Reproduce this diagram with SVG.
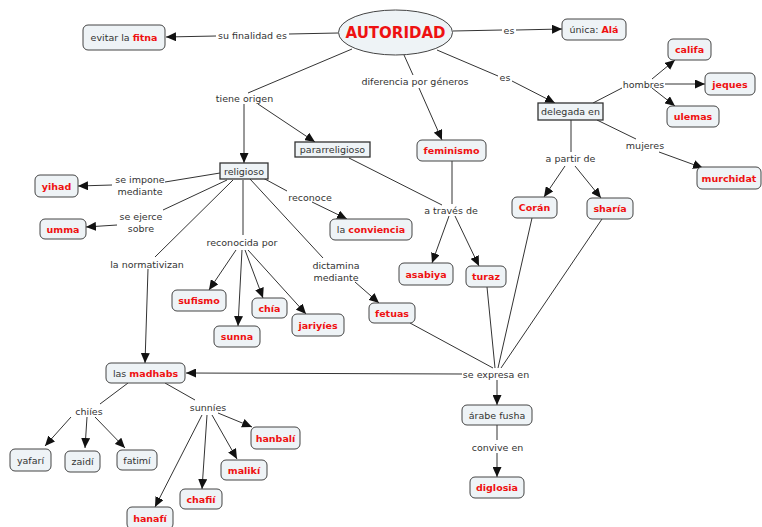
<svg xmlns="http://www.w3.org/2000/svg" width="762" height="527" viewBox="0 0 762 527">
<style>
text{font-family:"DejaVu Sans",Verdana,sans-serif;font-size:9.5px;fill:#333;text-anchor:middle}
.r{fill:#ee1111;font-weight:bold}
.n rect{fill:#eef3f6;stroke:#444;stroke-width:1}
.sq rect{fill:#eef3f6;stroke:#333;stroke-width:1.3}
#links line{stroke:#333;stroke-width:1}
#links line.a{marker-end:url(#ah)}
</style>
<defs>
<marker id="ah" markerUnits="userSpaceOnUse" markerWidth="11" markerHeight="9" refX="10" refY="4.5" orient="auto">
<path d="M0,0 L10,4.5 L0,9 z" fill="#111"/>
</marker>
</defs>
<rect width="762" height="527" fill="#fff"/>
<g id="links">
<line x1="338" y1="33" x2="289" y2="34"/>
<line class="a" x1="216" y1="36" x2="166" y2="37"/>
<line x1="453" y1="31" x2="502" y2="30"/>
<line class="a" x1="516" y1="30" x2="562" y2="29"/>
<line x1="404" y1="55" x2="413" y2="75"/>
<line class="a" x1="419" y1="88" x2="442" y2="140"/>
<line x1="437" y1="50" x2="498" y2="76"/>
<line class="a" x1="512" y1="81" x2="555" y2="103"/>
<line x1="593" y1="103" x2="622" y2="88"/>
<line class="a" x1="665" y1="84" x2="705" y2="84"/>
<line class="a" x1="652" y1="79" x2="675" y2="60"/>
<line class="a" x1="652" y1="88" x2="675" y2="106"/>
<line x1="597" y1="120" x2="636" y2="139"/>
<line class="a" x1="659" y1="152" x2="703" y2="168"/>
<line x1="571" y1="120" x2="571" y2="152"/>
<line class="a" x1="565" y1="166" x2="544" y2="197"/>
<line class="a" x1="575" y1="166" x2="601" y2="198"/>
<line x1="352" y1="49" x2="248" y2="93"/>
<line class="a" x1="244" y1="104" x2="244" y2="163"/>
<line class="a" x1="258" y1="104" x2="315" y2="142"/>
<line x1="349" y1="158" x2="442" y2="205"/>
<line x1="452" y1="161" x2="452" y2="204"/>
<line class="a" x1="449" y1="216" x2="432" y2="263"/>
<line class="a" x1="455" y1="216" x2="479" y2="266"/>
<line x1="220" y1="173" x2="165" y2="182"/>
<line class="a" x1="112" y1="185" x2="78" y2="186"/>
<line x1="227" y1="180" x2="163" y2="210"/>
<line class="a" x1="117" y1="225" x2="86" y2="227"/>
<line x1="233" y1="180" x2="155" y2="257"/>
<line class="a" x1="148" y1="269" x2="145" y2="363"/>
<line x1="243" y1="180" x2="243" y2="235"/>
<line class="a" x1="236" y1="250" x2="209" y2="290"/>
<line class="a" x1="242" y1="250" x2="238" y2="326"/>
<line class="a" x1="245" y1="250" x2="263" y2="298"/>
<line class="a" x1="248" y1="250" x2="306" y2="314"/>
<line x1="263" y1="178" x2="287" y2="191"/>
<line class="a" x1="312" y1="202" x2="347" y2="219"/>
<line x1="250" y1="179" x2="323" y2="258"/>
<line class="a" x1="355" y1="282" x2="379" y2="303"/>
<line x1="410" y1="323" x2="493" y2="368"/>
<line x1="487" y1="287" x2="495" y2="368"/>
<line x1="532" y1="218" x2="498" y2="368"/>
<line x1="602" y1="219" x2="501" y2="368"/>
<line class="a" x1="462" y1="374" x2="186" y2="373"/>
<line class="a" x1="497" y1="380" x2="497" y2="405"/>
<line x1="497" y1="425" x2="497" y2="440"/>
<line class="a" x1="497" y1="453" x2="497" y2="477"/>
<line x1="128" y1="383" x2="100" y2="404"/>
<line class="a" x1="71" y1="417" x2="45" y2="446"/>
<line class="a" x1="87" y1="417" x2="85" y2="448"/>
<line class="a" x1="95" y1="417" x2="125" y2="448"/>
<line x1="165" y1="383" x2="195" y2="400"/>
<line class="a" x1="218" y1="413" x2="252" y2="427"/>
<line class="a" x1="212" y1="415" x2="237" y2="459"/>
<line class="a" x1="207" y1="415" x2="202" y2="489"/>
<line class="a" x1="202" y1="415" x2="155" y2="507"/>
</g>
<g id="labels">
<text x="252.5" y="38.5">su finalidad es</text>
<text x="509" y="33.5">es</text>
<text x="415" y="84.5">diferencia por géneros</text>
<text x="505" y="81">es</text>
<text x="643.5" y="87.5">hombres</text>
<text x="645" y="148.5">mujeres</text>
<text x="570.5" y="161.5">a partir de</text>
<text x="244.5" y="101.5">tiene origen</text>
<text x="451" y="213.5">a través de</text>
<text x="140" y="183">se impone</text>
<text x="140" y="194.5">mediante</text>
<text x="141" y="220">se ejerce</text>
<text x="141" y="231.5">sobre</text>
<text x="147" y="267.5">la normativizan</text>
<text x="242" y="245.5">reconocida por</text>
<text x="310" y="200.5">reconoce</text>
<text x="336" y="269">dictamina</text>
<text x="336" y="280.5">mediante</text>
<text x="496" y="377.5">se expresa en</text>
<text x="497.5" y="450.5">convive en</text>
<text x="89" y="414.5">chiíes</text>
<text x="208" y="410.5">sunníes</text>
</g>
<g id="autoridad">
<ellipse cx="395.5" cy="32.5" rx="57" ry="22.5" fill="#eef3f6" stroke="#444" stroke-width="1"/>
<text x="395.5" y="38" class="r" style="font-size:15px">AUTORIDAD</text>
</g>
<g id="fitna" class="n"><rect x="83" y="25" width="82" height="25" rx="5"/><text x="124" y="41">evitar la <tspan class="r">fitna</tspan></text></g>
<g id="ala" class="n"><rect x="562" y="19" width="64" height="21" rx="5"/><text x="594" y="33">única: <tspan class="r">Alá</tspan></text></g>
<g id="delegada" class="sq"><rect x="538" y="103" width="65" height="17"/><text x="570.5" y="115">delegada en</text></g>
<g id="califa" class="n"><rect x="668" y="39" width="43" height="21" rx="5"/><text x="689.5" y="53" class="r">califa</text></g>
<g id="jeques" class="n"><rect x="705" y="73" width="50" height="22" rx="5"/><text x="730" y="87.5" class="r">jeques</text></g>
<g id="ulemas" class="n"><rect x="667" y="106" width="52" height="21" rx="5"/><text x="693" y="120" class="r">ulemas</text></g>
<g id="murchidat" class="n"><rect x="697" y="167" width="64" height="22" rx="5"/><text x="729" y="181.5" class="r">murchidat</text></g>
<g id="coran" class="n"><rect x="512" y="197" width="45" height="21" rx="5"/><text x="534.5" y="211" class="r">Corán</text></g>
<g id="sharia" class="n"><rect x="587" y="198" width="46" height="21" rx="5"/><text x="610" y="212" class="r">sharía</text></g>
<g id="feminismo" class="n"><rect x="417" y="140" width="69" height="21" rx="5"/><text x="451.5" y="154" class="r">feminismo</text></g>
<g id="pararreligioso" class="sq"><rect x="295" y="142" width="75" height="15"/><text x="332.5" y="153">pararreligioso</text></g>
<g id="religioso" class="sq"><rect x="220" y="163" width="48" height="16"/><text x="244" y="174.5">religioso</text></g>
<g id="asabiya" class="n"><rect x="399" y="263" width="54" height="22" rx="5"/><text x="426" y="277.5" class="r">asabiya</text></g>
<g id="turaz" class="n"><rect x="466" y="266" width="40" height="21" rx="5"/><text x="486" y="280" class="r">turaz</text></g>
<g id="conviencia" class="n"><rect x="330" y="219" width="82" height="21" rx="5"/><text x="371" y="233">la <tspan class="r">conviencia</tspan></text></g>
<g id="yihad" class="n"><rect x="35" y="175" width="43" height="22" rx="5"/><text x="56.5" y="189.5" class="r">yihad</text></g>
<g id="umma" class="n"><rect x="40" y="219" width="46" height="20" rx="5"/><text x="63" y="232.5" class="r">umma</text></g>
<g id="sufismo" class="n"><rect x="172" y="290" width="54" height="21" rx="5"/><text x="199" y="304" class="r">sufismo</text></g>
<g id="sunna" class="n"><rect x="214" y="326" width="46" height="21" rx="5"/><text x="237" y="340" class="r">sunna</text></g>
<g id="chia" class="n"><rect x="252" y="298" width="35" height="20" rx="5"/><text x="269.5" y="311.5" class="r">chía</text></g>
<g id="jariyies" class="n"><rect x="292" y="314" width="52" height="22" rx="5"/><text x="318" y="328.5" class="r">jariyíes</text></g>
<g id="fetuas" class="n"><rect x="369" y="303" width="46" height="20" rx="5"/><text x="392" y="316.5" class="r">fetuas</text></g>
<g id="madhabs" class="n"><rect x="106" y="363" width="79" height="20" rx="5"/><text x="145.5" y="376.5">las <tspan class="r">madhabs</tspan></text></g>
<g id="fusha" class="n"><rect x="462" y="405" width="70" height="20" rx="5"/><text x="497" y="418.5">árabe fusha</text></g>
<g id="diglosia" class="n"><rect x="470" y="477" width="54" height="21" rx="5"/><text x="497" y="491" class="r">diglosia</text></g>
<g id="yafari" class="n"><rect x="10" y="449" width="41" height="22" rx="5"/><text x="30.5" y="463.5">yafarí</text></g>
<g id="zaidi" class="n"><rect x="65" y="451" width="35" height="21" rx="5"/><text x="82.5" y="465">zaidí</text></g>
<g id="fatimi" class="n"><rect x="117" y="450" width="40" height="20" rx="5"/><text x="137" y="463.5">fatimí</text></g>
<g id="hanbali" class="n"><rect x="251" y="427" width="49" height="22" rx="5"/><text x="275.5" y="441.5" class="r">hanbalí</text></g>
<g id="maliki" class="n"><rect x="221" y="460" width="46" height="20" rx="5"/><text x="244" y="473.5" class="r">malikí</text></g>
<g id="chafii" class="n"><rect x="180" y="489" width="42" height="20" rx="5"/><text x="201" y="502.5" class="r">chafií</text></g>
<g id="hanafi" class="n"><rect x="127" y="507" width="46" height="22" rx="5"/><text x="150" y="521.5" class="r">hanafí</text></g>
</svg>
